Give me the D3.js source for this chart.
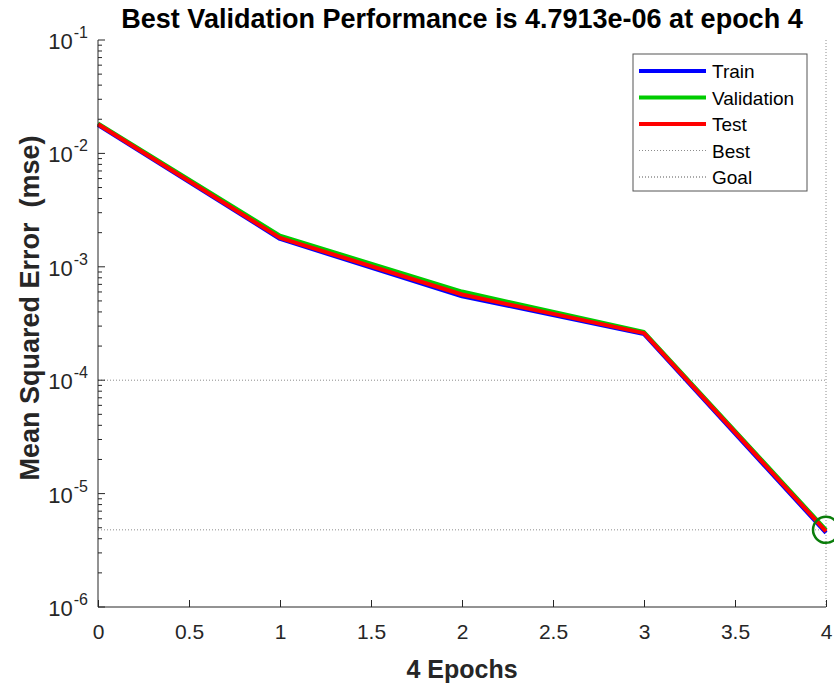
<!DOCTYPE html>
<html>
<head>
<meta charset="utf-8">
<script src="https://cdn.jsdelivr.net/npm/d3@7"></script>
<style>
  body { margin: 0; background: #fff; }
  svg { font-family: 'Liberation Sans', Arial, sans-serif; }
</style>
</head>
<body>
<svg id="perf" width="834" height="686"></svg>
<script>
// values
const epochs = [0, 1, 2, 3, 4]
const train = [0.0178, 1.76e-3, 5.5e-4, 2.55e-4, 4.5e-6]
const validation = [0.0184, 1.88e-3, 6.05e-4, 2.66e-4, 4.7913e-6]
const test = [0.0181, 1.8e-3, 5.7e-4, 2.6e-4, 4.65e-6]
const bestEpoch = 4
const bestPerf = 4.7913e-6
const goal = 1e-4
const xTicks = [0, 0.5, 1, 1.5, 2, 2.5, 3, 3.5, 4]
const yDecades = [-6, -5, -4, -3, -2, -1]

const series = [
  { name: 'Train', values: train, color: '#0000ff' },
  { name: 'Validation', values: validation, color: '#00cc00' },
  { name: 'Test', values: test, color: '#ff0000' }
]

const svg = d3.select('#perf')
const axisColor = '#262626'
const plotLeft = 98, plotRight = 826, plotTop = 40, plotBottom = 607

const x = d3.scaleLinear().domain([0, 4]).range([plotLeft, plotRight])
const y = d3.scaleLog().domain([1e-6, 1e-1]).range([plotBottom, plotTop])

// reference lines
const refs = svg.append('g')
  .attr('stroke', '#8c8c8c')
  .attr('stroke-width', 1)
  .attr('stroke-dasharray', '1,2')
refs.append('line')
  .attr('x1', x(0)).attr('x2', x(4))
  .attr('y1', y(goal)).attr('y2', y(goal))
refs.append('line')
  .attr('x1', x(0)).attr('x2', x(4))
  .attr('y1', y(bestPerf)).attr('y2', y(bestPerf))
refs.append('line')
  .attr('x1', x(bestEpoch)).attr('x2', x(bestEpoch))
  .attr('y1', plotTop).attr('y2', plotBottom)

// performance curves
const line = d3.line()
  .x((d, i) => x(epochs[i]))
  .y(d => y(d))

svg.append('g')
  .selectAll('path')
  .data([series[1], series[0], series[2]])
  .enter()
  .append('path')
  .attr('d', d => line(d.values))
  .attr('fill', 'none')
  .attr('stroke', d => d.color)
  .attr('stroke-width', 4)
  .attr('stroke-linejoin', 'round')

// best point
svg.append('circle')
  .attr('cx', x(bestEpoch))
  .attr('cy', y(bestPerf))
  .attr('r', 13)
  .attr('fill', 'none')
  .attr('stroke', '#0a7d0a')
  .attr('stroke-width', 2.5)

// axes (MATLAB style: ticks inside, no box)
const xAxis = d3.axisBottom(x)
  .tickValues(xTicks)
  .tickSize(-7)
  .tickFormat(d => d)
const gx = svg.append('g')
  .attr('transform', 'translate(0,' + plotBottom + ')')
  .call(xAxis)
gx.select('.domain').attr('stroke', axisColor).attr('d', 'M' + plotLeft + ',0H' + plotRight)
gx.selectAll('.tick line').attr('stroke', axisColor)
gx.selectAll('.tick text')
  .attr('fill', axisColor)
  .attr('font-size', 21)
  .attr('y', 17)

const minorTicks = []
for (let e = -6; e < -1; e++) {
  for (let m = 2; m <= 9; m++) minorTicks.push(m * Math.pow(10, e))
}

const gy = svg.append('g').attr('transform', 'translate(' + plotLeft + ',0)')
gy.append('line')
  .attr('x1', 0).attr('x2', 0)
  .attr('y1', plotTop).attr('y2', plotBottom)
  .attr('stroke', axisColor)
gy.selectAll('.minor')
  .data(minorTicks)
  .enter()
  .append('line')
  .attr('x1', 0).attr('x2', 4)
  .attr('y1', d => y(d)).attr('y2', d => y(d))
  .attr('stroke', axisColor)
const major = gy.selectAll('.major')
  .data(yDecades)
  .enter()
  .append('g')
  .attr('transform', d => 'translate(0,' + y(Math.pow(10, d)) + ')')
major.append('line')
  .attr('x1', 0).attr('x2', 7)
  .attr('stroke', axisColor)
const lbl = major.append('text')
  .attr('x', -10)
  .attr('y', 9)
  .attr('text-anchor', 'end')
  .attr('fill', axisColor)
  .attr('font-size', 22)
lbl.append('tspan').text('10')
lbl.append('tspan')
  .attr('dy', -11)
  .attr('dx', 1)
  .attr('font-size', 16)
  .text(d => d)

// labels
svg.append('text')
  .attr('x', (plotLeft + plotRight) / 2)
  .attr('y', 28)
  .attr('text-anchor', 'middle')
  .attr('font-weight', 'bold')
  .attr('font-size', 27)
  .attr('fill', '#000')
  .text('Best Validation Performance is ' + bestPerf.toExponential(4).replace('e-', 'e-0') + ' at epoch ' + bestEpoch)

svg.append('text')
  .attr('x', (plotLeft + plotRight) / 2)
  .attr('y', 678)
  .attr('text-anchor', 'middle')
  .attr('font-weight', 'bold')
  .attr('font-size', 25)
  .attr('fill', axisColor)
  .text(epochs.length - 1 + ' Epochs')

svg.append('text')
  .attr('transform', 'translate(39,308) rotate(-90)')
  .attr('text-anchor', 'middle')
  .attr('font-weight', 'bold')
  .attr('font-size', 27)
  .attr('fill', axisColor)
  .style('white-space', 'pre')
  .text('Mean Squared Error  (mse)')

// legend
const legendItems = series.map(d => ({ name: d.name, color: d.color, dotted: false }))
  .concat([{ name: 'Best', color: '#8c8c8c', dotted: true }, { name: 'Goal', color: '#555', dotted: true }])

const legend = svg.append('g').attr('transform', 'translate(633,54)')
legend.append('rect')
  .attr('width', 174).attr('height', 137)
  .attr('fill', '#fff')
  .attr('stroke', '#555')
  .attr('stroke-width', 1)
const item = legend.selectAll('.item')
  .data(legendItems)
  .enter()
  .append('g')
  .attr('transform', (d, i) => 'translate(0,' + (17 + i * 26.5) + ')')
item.append('line')
  .attr('x1', 6).attr('x2', 73)
  .attr('stroke', d => d.color)
  .attr('stroke-width', d => d.dotted ? 1 : 4)
  .attr('stroke-dasharray', d => d.dotted ? '1,2' : null)
item.append('text')
  .attr('x', 79)
  .attr('y', 7)
  .attr('font-size', 19)
  .attr('fill', '#000')
  .text(d => d.name)
</script>
</body>
</html>
